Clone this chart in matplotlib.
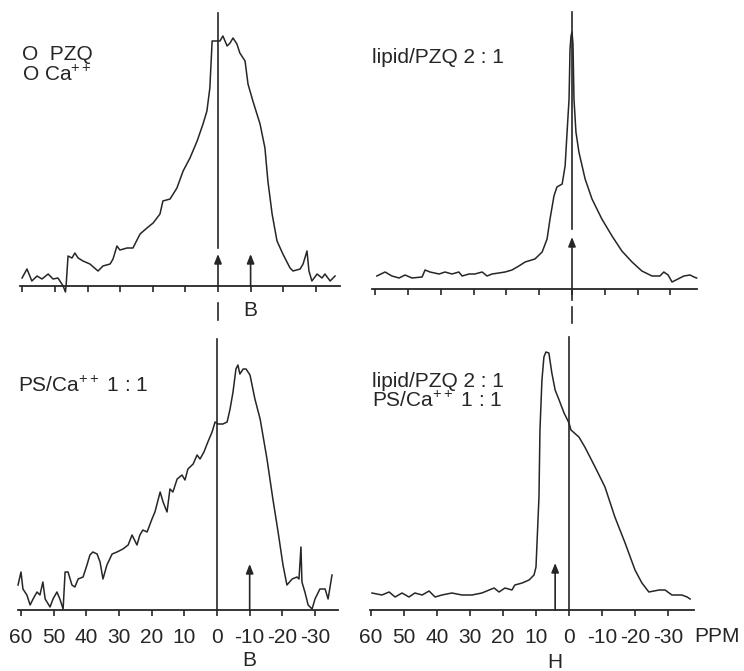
#!/usr/bin/env python3
"""
31P NMR spectra, four panels (PZQ / Ca++ / PS)
"""

import matplotlib
matplotlib.use('Agg')
import matplotlib.pyplot as plt

# ---- data (ppm, relative intensity) ----
tl_ppm = [60.1, 58.6, 57.1, 55.5, 54.0, 52.1, 50.6, 49.1, 47.5, 46.8, 46.6, 46.0, 44.8, 43.9,
          42.9, 41.4, 39.3, 36.8, 35.3, 33.1, 32.2, 31.0, 30.1, 27.9, 26.1, 23.9, 21.8, 19.9,
          17.8, 16.9, 14.7, 12.6, 10.7, 8.6, 6.4, 4.6, 3.4, 2.5, 1.8, 0.9, -0.6, -1.5, -2.8,
          -3.7, -4.6, -5.8, -6.7, -8.3, -9.2, -10.7, -12.9, -14.4, -15.3, -16.6, -18.1, -19.9,
          -22.1, -23.0, -25.2, -26.1, -27.3, -27.9, -28.8, -30.4, -31.9, -32.8, -34.4, -35.9]
tl_int = [8, 17, 5, 10, 7, 12, 7, 8, 0, -6, 0, 30, 28, 33,
          28, 25, 22, 15, 20, 22, 27, 40, 36, 38, 38, 52, 58, 63,
          72, 85, 87, 98, 115, 128, 145, 162, 175, 198, 245, 245, 245, 250, 240,
          243, 248, 242, 233, 225, 202, 185, 162, 138, 105, 72, 45, 32,
          18, 15, 17, 22, 35, 15, 5, 12, 8, 12, 5, 10]

tr_ppm = [59.5, 57.0, 54.9, 52.7, 50.9, 48.8, 45.7, 44.8, 43.3, 40.5, 38.7, 36.6, 34.5, 33.5,
          31.4, 29.6, 27.4, 25.9, 24.4, 22.3, 20.4, 18.3, 16.2, 14.3, 11.3, 9.1, 7.6, 6.7,
          5.5, 4.6, 3.0, 2.1, 1.5, 0.9, 0.6, 0.3, 0.0, -0.3, -0.6, -1.2, -2.1, -4.0, -6.1,
          -9.1, -12.2, -15.2, -18.3, -21.3, -24.4, -26.8, -28.0, -29.3, -30.5, -32.3, -34.1,
          -36.0, -37.2, -38.0]
tr_int = [13, 17, 13, 11, 14, 11, 12, 19, 17, 15, 17, 15, 17, 13,
          15, 15, 17, 13, 15, 16, 17, 19, 23, 27, 30, 37, 50, 70,
          93, 102, 105, 123, 157, 190, 240, 253, 257, 245, 190, 157, 137, 110, 90,
          70, 53, 38, 27, 18, 13, 13, 17, 14, 7, 10, 13,
          14, 12, 11]

bl_ppm = [60.9, 60.0, 59.4, 58.2, 57.2, 56.3, 55.1, 54.2, 53.3, 52.6, 51.1, 50.2, 49.0, 48.1,
          47.1, 46.5, 45.6, 44.4, 43.5, 42.5, 41.0, 39.8, 38.9, 38.0, 36.7, 35.8, 34.9, 33.7,
          32.1, 30.6, 28.8, 27.2, 26.0, 24.5, 23.6, 22.7, 21.4, 19.9, 19.0, 17.4, 16.5, 15.3,
          14.4, 13.5, 12.2, 10.7, 9.8, 8.9, 7.3, 6.1, 5.2, 4.0, 2.8, 1.5, 0.6, -0.3, -1.8,
          -3.1, -4.0, -4.9, -5.8, -6.4, -7.0, -8.0, -8.9, -10.1, -11.6, -13.2, -15.3, -17.1,
          -18.7, -20.2, -21.4, -23.0, -24.5, -25.1, -25.7, -26.0, -26.9, -27.9, -29.1, -30.0,
          -31.5, -33.1, -34.0, -35.2]
bl_int = [25, 38, 21, 15, 5, 11, 18, 15, 28, 11, 3, 11, 18, 11,
          1, 38, 38, 25, 23, 31, 33, 45, 55, 58, 56, 48, 31, 45,
          56, 58, 61, 65, 75, 65, 75, 80, 78, 91, 98, 118, 108, 98,
          121, 118, 131, 135, 130, 141, 146, 155, 151, 158, 168, 178, 188, 186, 186,
          188, 201, 218, 241, 245, 236, 241, 241, 235, 211, 191, 151, 111,
          78, 45, 25, 31, 33, 31, 63, 28, 18, 5, 1, 11,
          21, 21, 11, 35]

br_ppm = [59.7, 56.7, 54.5, 52.7, 50.6, 48.5, 46.7, 44.5, 42.4, 40.6, 38.5, 35.5, 32.4, 29.4,
          26.4, 24.2, 22.7, 21.2, 19.4, 17.3, 16.4, 14.2, 12.1, 10.6, 10.0, 9.1, 8.8, 8.2,
          7.6, 7.0, 6.1, 5.2, 4.2, 3.0, 1.5, 0.0, -0.6, -3.0, -4.8, -7.9, -10.9, -13.9,
          -17.0, -20.0, -22.1, -24.2, -27.3, -29.1, -31.2, -34.2, -35.8, -36.7]
br_int = [17, 15, 18, 13, 17, 13, 17, 15, 19, 13, 15, 17, 15, 15,
          17, 20, 22, 18, 22, 20, 25, 27, 30, 35, 43, 113, 180, 230,
          253, 258, 257, 237, 220, 210, 197, 187, 180, 173, 163, 143, 123, 93,
          67, 40, 27, 18, 20, 20, 15, 15, 13, 11]

tick_vals = [60, 50, 40, 30, 20, 10, 0, -10, -20, -30]
tick_text = ['60', '50', '40', '30', '20', '10', '0', '-10', '-20', '-30']

# reference line at 0 ppm (from, to) and arrow marks (ppm, tip height)
tl_ref = (38, 273)
tl_arrows = [(0, 32), (-10, 32)]
tr_ref = (60, 277)
tr_arrows = [(0, 52)]
bl_ref = (0, 271)
bl_arrows = [(-10, 46)]
br_ref = (0, 273)
br_arrows = [(4.2, 47)]

INK = '#262626'
W, H = 744, 671

plt.rcParams['font.family'] = ['Liberation Sans', 'DejaVu Sans']
plt.rcParams['mathtext.fontset'] = 'custom'
plt.rcParams['mathtext.rm'] = 'Liberation Sans'
plt.rcParams['mathtext.it'] = 'Liberation Sans:italic'

fig = plt.figure(figsize=(W / 100, H / 100), dpi=100)


def make_panel(zero_px, px_per_ppm, axis_px, bounds, labels):
    """Axes placed so that 1 intensity unit = 1 pixel and 0 ppm sits at zero_px"""
    x_hi, x_lo = 63, -38
    y_lo, y_hi = -40, 280
    left = zero_px - x_hi * px_per_ppm
    width = (x_hi - x_lo) * px_per_ppm
    bottom = axis_px - y_lo
    ax = fig.add_axes([left / W, 1 - bottom / H, width / W, (y_hi - y_lo) / H])
    ax.set_xlim(x_hi, x_lo)
    ax.set_ylim(y_lo, y_hi)
    ax.patch.set_alpha(0)
    for side in ['top', 'right', 'left']:
        ax.spines[side].set_visible(False)
    ax.spines['bottom'].set_position(('data', 0))
    ax.spines['bottom'].set_bounds(*bounds)
    ax.spines['bottom'].set_linewidth(1.3)
    ax.spines['bottom'].set_color(INK)
    ax.set_yticks([])
    ax.set_xticks(tick_vals)
    ax.set_xticklabels(tick_text if labels else [])
    ax.tick_params(axis='x', direction='out', length=4, width=1.2, color=INK,
                   labelsize=15, labelcolor=INK, pad=9)
    return ax


def draw(ax, ppm, inten, ref, arrows):
    ax.plot(ppm, inten, color=INK, lw=1.1, clip_on=False)
    ax.plot([0, 0], ref, color=INK, lw=1.2, clip_on=False)
    for pos, tip in arrows:
        ax.annotate('', xy=(pos, tip), xytext=(pos, 0),
                    arrowprops=dict(arrowstyle='-|>,head_length=0.55,head_width=0.22',
                                    color=INK, lw=1.2, shrinkA=0, shrinkB=0))


ax_tl = make_panel(218, 3.26, 286, (60.7, -37.4), False)
ax_tr = make_panel(572, 3.28, 289, (61.0, -38.0), False)
ax_bl = make_panel(217, 3.267, 610, (61.0, -37.0), True)
ax_br = make_panel(569, 3.30, 610, (60.3, -37.9), True)

draw(ax_tl, tl_ppm, tl_int, tl_ref, tl_arrows)
draw(ax_tr, tr_ppm, tr_int, tr_ref, tr_arrows)
draw(ax_bl, bl_ppm, bl_int, bl_ref, bl_arrows)
draw(ax_br, br_ppm, br_int, br_ref, br_arrows)

# dashed continuation of the 0 ppm line below the top panels
ax_tl.plot([0, 0], [-17, -34], color=INK, lw=1.2, clip_on=False)
ax_tr.plot([0, 0], [-2, -11], color=INK, lw=1.2, clip_on=False)
ax_tr.plot([0, 0], [-18, -34], color=INK, lw=1.2, clip_on=False)

# panel letters
ax_tl.text(-10, -25, 'B', ha='center', va='center', fontsize=15, color=INK)
ax_bl.text(-10, -50, 'B', ha='center', va='center', fontsize=15, color=INK)
ax_br.text(4.2, -52, 'H', ha='center', va='center', fontsize=15, color=INK)
ax_br.text(-37.9, -26, 'PPM', ha='left', va='center', fontsize=15, color=INK)

# sample labels
labels = [
    (22, 60, 'O  PZQ'),
    (22, 81, r'O Ca$^{\mathrm{++}}$'),
    (372, 63, 'lipid/PZQ 2 : 1'),
    (18, 392, r'PS/Ca$^{\mathrm{++}}$ 1 : 1'),
    (372, 387, 'lipid/PZQ 2 : 1'),
    (372, 407, r'PS/Ca$^{\mathrm{++}}$ 1 : 1'),
]
for x, y, s in labels:
    fig.text(x / W, 1 - y / H, s, ha='left', va='baseline', fontsize=15, color=INK)

fig.savefig('out.png', dpi=100)
plt.close(fig)
